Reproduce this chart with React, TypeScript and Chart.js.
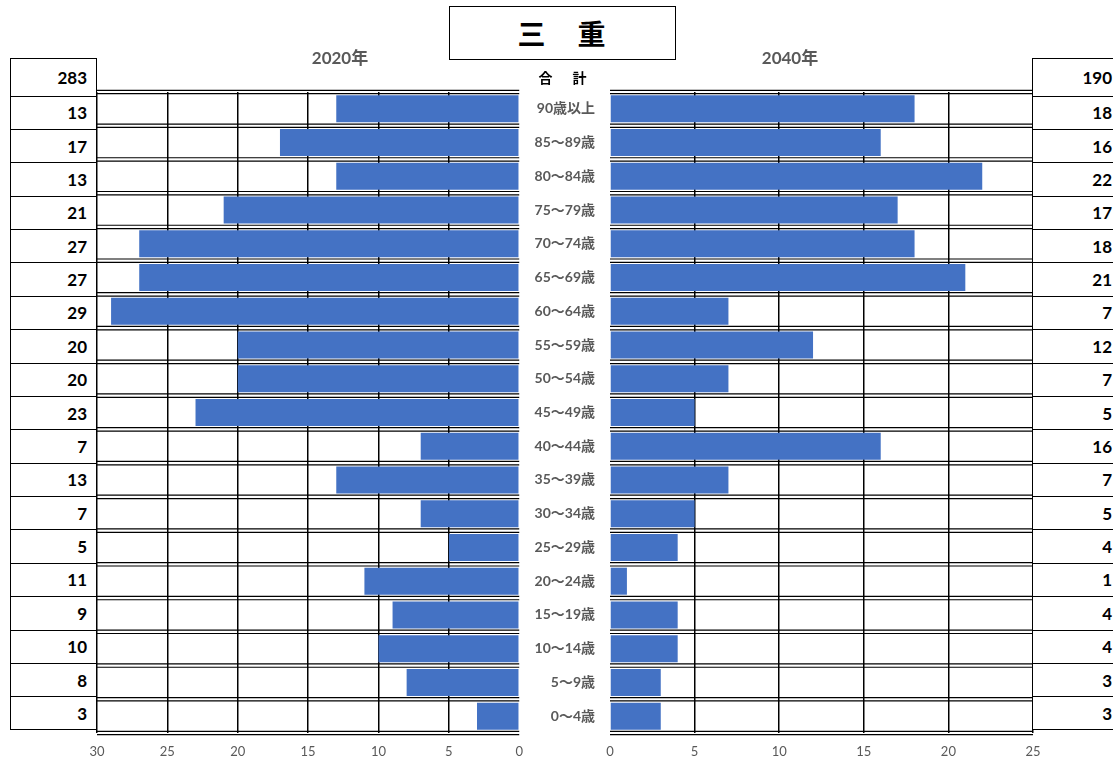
import React, { useEffect, useRef } from "react";
import { Chart, registerables } from "chart.js";

Chart.register(...registerables);

const AGE_GROUPS = [
  "90歳以上", "85～89歳", "80～84歳", "75～79歳", "70～74歳", "65～69歳", "60～64歳",
  "55～59歳", "50～54歳", "45～49歳", "40～44歳", "35～39歳", "30～34歳", "25～29歳",
  "20～24歳", "15～19歳", "10～14歳", "5～9歳", "0～4歳",
];
const POP_2020 = [13, 17, 13, 21, 27, 27, 29, 20, 20, 23, 7, 13, 7, 5, 11, 9, 10, 8, 3];
const POP_2040 = [18, 16, 22, 17, 18, 21, 7, 12, 7, 5, 16, 7, 5, 4, 1, 4, 4, 3, 3];
const TOTAL_2020 = 283;
const TOTAL_2040 = 190;
const LEFT_AXIS_MAX = 30;
const RIGHT_AXIS_MAX = 25;
const AXIS_STEP = 5;
const TITLE = "三　重";
const TOTAL_LABEL = "合　計";
const YEAR_LEFT = "2020年";
const YEAR_RIGHT = "2040年";

const BAR_COLOR = "#4472C4";
const GRAY = "#595959";
const LATIN = "Lato, 'Noto Sans CJK JP', sans-serif";

const rowLinesPlugin = {
  id: "rowLines",
  beforeDatasetsDraw(chart: any) {
    const { ctx, chartArea: a } = chart;
    const n = chart.data.labels.length;
    ctx.save();
    ctx.strokeStyle = "#000";
    ctx.lineWidth = 1.2;
    for (let i = 0; i <= n; i++) {
      const yy = a.top + ((a.bottom - a.top) * i) / n;
      for (const d of [-1.7, 1.7]) {
        ctx.beginPath();
        ctx.moveTo(a.left, yy + d);
        ctx.lineTo(a.right, yy + d);
        ctx.stroke();
      }
    }
    ctx.restore();
  },
};

function gridColor(c: any) {
  return c.tick && c.tick.value === 0 ? "rgba(0,0,0,0)" : "#000";
}

function makeChart(canvas: HTMLCanvasElement, side: "left" | "right") {
  const isLeft = side === "left";
  return new Chart(canvas, {
    type: "bar",
    data: {
      labels: AGE_GROUPS,
      datasets: [
        {
          data: isLeft ? POP_2020 : POP_2040,
          backgroundColor: BAR_COLOR,
          borderWidth: 0,
          categoryPercentage: 1,
          barPercentage: 0.8,
        },
      ],
    },
    plugins: [rowLinesPlugin],
    options: {
      indexAxis: "y",
      animation: false,
      responsive: false,
      devicePixelRatio: 1,
      layout: {
        padding: isLeft
          ? { left: 97, right: 7, top: 92, bottom: 0 }
          : { left: 0, right: 80, top: 92, bottom: 0 },
      },
      plugins: { legend: { display: false }, tooltip: { enabled: false } },
      scales: {
        x: {
          min: 0,
          max: isLeft ? LEFT_AXIS_MAX : RIGHT_AXIS_MAX,
          reverse: isLeft,
          ticks: {
            stepSize: AXIS_STEP,
            color: GRAY,
            font: { family: LATIN, size: 13 },
            padding: 11,
          },
          grid: { color: gridColor, lineWidth: 1.5, drawTicks: false },
          border: { display: false },
          afterFit: (s: any) => {
            s.height = 30;
          },
        },
        y: {
          display: !isLeft,
          position: "left",
          ticks: {
            color: GRAY,
            font: { family: LATIN, size: 14, weight: "bold" },
            padding: 7,
          },
          grid: { display: false },
          border: { display: false },
          afterFit: (s: any) => {
            s.width = isLeft ? 0 : 88;
          },
        },
      },
    } as any,
  });
}

function ChartCanvas({ side, left, width }: { side: "left" | "right"; left: number; width: number }) {
  const ref = useRef<HTMLCanvasElement | null>(null);
  useEffect(() => {
    if (!ref.current) return;
    const chart = makeChart(ref.current, side);
    return () => chart.destroy();
  }, [side]);
  return (
    <canvas
      ref={ref}
      width={width}
      height={763}
      style={{ position: "absolute", left, top: 0, width, height: 763 }}
    />
  );
}

const ROW_H = 33.39;
const HEAD_H = 38;

function ValueBoxes({ left, width, total, values }: { left: number; width: number; total: number; values: number[] }) {
  const cell: React.CSSProperties = {
    boxSizing: "border-box",
    display: "flex",
    alignItems: "center",
    justifyContent: "flex-end",
    paddingRight: 9,
    fontFamily: LATIN,
    fontWeight: 700,
    fontSize: 17,
    color: "#000",
  };
  return (
    <div
      style={{
        position: "absolute",
        left,
        top: 58,
        width,
        height: HEAD_H + ROW_H * values.length,
        border: "1.5px solid #000",
        boxSizing: "border-box",
        background: "#fff",
      }}
    >
      <div style={{ ...cell, height: HEAD_H - 1.5 }}>{total}</div>
      {values.map((v, i) => (
        <div key={i} style={{ ...cell, height: ROW_H, borderTop: "1.5px solid #000" }}>
          {v}
        </div>
      ))}
    </div>
  );
}

const yearStyle: React.CSSProperties = {
  position: "absolute",
  top: 47,
  width: 100,
  textAlign: "center",
  fontFamily: LATIN,
  fontWeight: 700,
  fontSize: 17,
  lineHeight: "22px",
  color: GRAY,
};

export default function App() {
  return (
    <div
      style={{
        position: "fixed",
        left: 0,
        top: 0,
        width: 1113,
        height: 763,
        background: "#fff",
        overflow: "hidden",
      }}
    >
      <ChartCanvas side="left" left={0} width={534} />
      <ChartCanvas side="right" left={522} width={591} />
      <ValueBoxes left={10} width={87} total={TOTAL_2020} values={POP_2020} />
      <div style={{ position: "absolute", left: 1032, top: 0, width: 90, height: 763 }}>
        <ValueBoxes left={0} width={90} total={TOTAL_2040} values={POP_2040} />
      </div>
      <div
        style={{
          position: "absolute",
          left: 449,
          top: 6,
          width: 227,
          height: 54,
          boxSizing: "border-box",
          border: "1.5px solid #000",
          display: "flex",
          alignItems: "center",
          justifyContent: "center",
          fontFamily: "'Noto Sans CJK JP', sans-serif",
          fontWeight: 700,
          fontSize: 28,
          letterSpacing: 2,
          color: "#000",
          background: "#fff",
        }}
      >
        {TITLE}
      </div>
      <div
        style={{
          position: "absolute",
          left: 514,
          top: 67,
          width: 100,
          textAlign: "center",
          fontFamily: "'Noto Sans CJK JP', sans-serif",
          fontWeight: 700,
          fontSize: 14,
          lineHeight: "20px",
          letterSpacing: 3,
          color: "#000",
        }}
      >
        {TOTAL_LABEL}
      </div>
      <div style={{ ...yearStyle, left: 290 }}>{YEAR_LEFT}</div>
      <div style={{ ...yearStyle, left: 740 }}>{YEAR_RIGHT}</div>
    </div>
  );
}
